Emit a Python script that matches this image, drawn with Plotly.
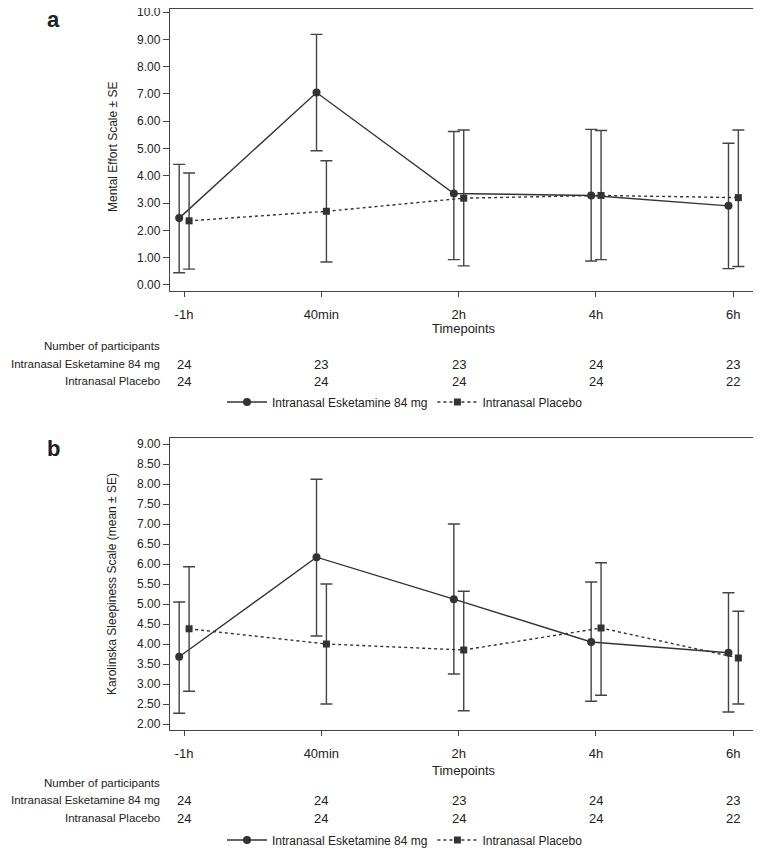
import plotly.graph_objects as go

# categories and values
timepoints = ["-1h", "40min", "2h", "4h", "6h"]

# panel a: Mental Effort Scale (mean, upper and lower SE bounds)
a_esk_mean = [2.45, 7.05, 3.35, 3.28, 2.90]
a_esk_hi = [4.42, 9.18, 5.62, 5.70, 5.19]
a_esk_lo = [0.45, 4.92, 0.93, 0.88, 0.60]
a_pla_mean = [2.35, 2.70, 3.18, 3.28, 3.20]
a_pla_hi = [4.10, 4.55, 5.68, 5.66, 5.68]
a_pla_lo = [0.58, 0.84, 0.70, 0.93, 0.68]
a_n_esk = [24, 23, 23, 24, 23]
a_n_pla = [24, 24, 24, 24, 22]

# panel b: Karolinska Sleepiness Scale
b_esk_mean = [3.68, 6.17, 5.12, 4.05, 3.78]
b_esk_hi = [5.05, 8.12, 7.00, 5.55, 5.28]
b_esk_lo = [2.27, 4.20, 3.25, 2.57, 2.30]
b_pla_mean = [4.38, 4.00, 3.85, 4.40, 3.65]
b_pla_hi = [5.93, 5.50, 5.32, 6.03, 4.82]
b_pla_lo = [2.82, 2.50, 2.33, 2.72, 2.50]
b_n_esk = [24, 24, 23, 24, 23]
b_n_pla = [24, 24, 24, 24, 22]

a_yticks = [0, 1, 2, 3, 4, 5, 6, 7, 8, 9, 10]
a_yticktext = ["0.00", "1.00", "2.00", "3.00", "4.00", "5.00", "6.00", "7.00", "8.00", "9.00", "10.0"]
b_yticks = [2.0, 2.5, 3.0, 3.5, 4.0, 4.5, 5.0, 5.5, 6.0, 6.5, 7.0, 7.5, 8.0, 8.5, 9.0]
b_yticktext = ["%.2f" % v for v in b_yticks]

ESK = "Intranasal Esketamine 84 mg"
PLA = "Intranasal Placebo"
DARK = "#333333"
ARIAL = "Liberation Sans, Arial, sans-serif"
SMALL = 12  # stands in for the narrow face of the original

# the page body puts the figure 8px in from the window corner
OFF = 8
W, H = 761 - OFF, 848 - OFF
M_T, M_B, M_L, M_R = 1, 118, 170 - OFF, 3
PLOT_H = H - M_T - M_B


def py(pix):
    # window pixel row -> paper y
    return (H - M_B - (pix - OFF)) / PLOT_H


def px(pix):
    # window pixel column -> paper x
    return (pix - OFF - M_L) / (W - M_L - M_R)


xi = list(range(len(timepoints)))
x_esk = [i - 0.035 for i in xi]
x_pla = [i + 0.037 for i in xi]

fig = go.Figure()


def add_series(xs, mean, hi, lo, name, dash, symbol, size, xa, ya, legend):
    fig.add_trace(go.Scatter(
        x=xs, y=mean, name=name, mode="lines+markers",
        xaxis=xa, yaxis=ya, legend=legend,
        line=dict(color=DARK, width=1.4, dash=dash),
        marker=dict(symbol=symbol, size=size, color=DARK),
        error_y=dict(type="data", symmetric=False,
                     array=[h - m for h, m in zip(hi, mean)],
                     arrayminus=[m - l for m, l in zip(mean, lo)],
                     color="#444444", thickness=1.4, width=6),
    ))


add_series(x_esk, a_esk_mean, a_esk_hi, a_esk_lo, ESK, "solid", "circle", 8, "x", "y", "legend")
add_series(x_pla, a_pla_mean, a_pla_hi, a_pla_lo, PLA, "3px,3px", "square", 7, "x", "y", "legend")
add_series(x_esk, b_esk_mean, b_esk_hi, b_esk_lo, ESK, "solid", "circle", 8, "x2", "y2", "legend2")
add_series(x_pla, b_pla_mean, b_pla_hi, b_pla_lo, PLA, "3px,3px", "square", 7, "x2", "y2", "legend2")

top_dom = [py(291), 1.0]
bot_dom = [0.0, py(438)]

xaxis_common = dict(
    range=[-0.102, 4.18], tickmode="array", tickvals=xi, ticktext=timepoints,
    showline=True, linecolor="#444444", linewidth=1.3, mirror=True,
    ticks="outside", ticklen=5, tickcolor="#444444", showgrid=False, zeroline=False,
    tickfont=dict(family=ARIAL, size=SMALL + 1, color="#222222"), ticklabelstandoff=6,
)
yaxis_common = dict(
    showline=True, linecolor="#444444", linewidth=1.3, mirror=True,
    ticks="outside", ticklen=6, tickcolor="#444444", showgrid=False, zeroline=False,
    tickfont=dict(family=ARIAL, size=12, color="#222222"), tickmode="array",
    ticklabeloverflow="allow",
)

legend_common = dict(
    orientation="h", xref="container", yref="container", xanchor="center", yanchor="middle",
    font=dict(family=ARIAL, size=SMALL, color="#222222"), itemwidth=40,
    bgcolor="rgba(0,0,0,0)", tracegroupgap=0,
)

fig.update_layout(
    width=W, height=H,
    margin=dict(l=M_L, r=M_R, t=M_T, b=M_B, autoexpand=False),
    paper_bgcolor="white", plot_bgcolor="white",
    xaxis=dict(domain=[0, 1], anchor="y", **xaxis_common),
    yaxis=dict(domain=top_dom, anchor="x", range=[-0.22, 10.11],
               tickvals=a_yticks, ticktext=a_yticktext, **yaxis_common),
    xaxis2=dict(domain=[0, 1], anchor="y2", **xaxis_common),
    yaxis2=dict(domain=bot_dom, anchor="x2", range=[1.85, 9.15],
                tickvals=b_yticks, ticktext=b_yticktext, **yaxis_common),
    legend=dict(x=(405 - OFF) / W, y=(H - (402 - OFF)) / H, **legend_common),
    legend2=dict(x=(405 - OFF) / W, y=(H - (840 - OFF)) / H, **legend_common),
    showlegend=True,
)

ann = []


def text(x, y, s, xref="paper", xanchor="center", size=SMALL, **kw):
    ann.append(dict(x=x, y=y, xref=xref, yref="paper", text=s, showarrow=False,
                    xanchor=xanchor, yanchor="middle",
                    font=dict(family=ARIAL, size=size, color="#222222"), **kw))


def panel_block(xref, y_title_pix, n_head, n_row1, n_row2, counts_esk, counts_pla):
    text(0.5, py(y_title_pix), "Timepoints", size=SMALL + 1)
    text(px(162), py(n_head), "Number of participants", xanchor="right", size=11.5)
    text(px(162), py(n_row1), ESK, xanchor="right", size=11.5)
    text(px(162), py(n_row2), PLA, xanchor="right", size=11.5)
    for i, (ne, npl) in enumerate(zip(counts_esk, counts_pla)):
        text(i, py(n_row1), str(ne), xref=xref, size=SMALL + 1)
        text(i, py(n_row2), str(npl), xref=xref, size=SMALL + 1)


panel_block("x", 328, 346, 364, 381, a_n_esk, a_n_pla)
panel_block("x2", 770, 783, 800, 818, b_n_esk, b_n_pla)

# panel labels and y titles
text(px(53), py(20), "<b>a</b>", size=22)
text(px(53), py(449), "<b>b</b>", size=22)
text(px(113), py(147), "Mental Effort Scale ± SE", size=12, textangle=-90)
text(px(112), py(584), "Karolinska Sleepiness Scale (mean ± SE)", size=12, textangle=-90)

fig.update_layout(annotations=ann)

fig.write_html("out.html")
